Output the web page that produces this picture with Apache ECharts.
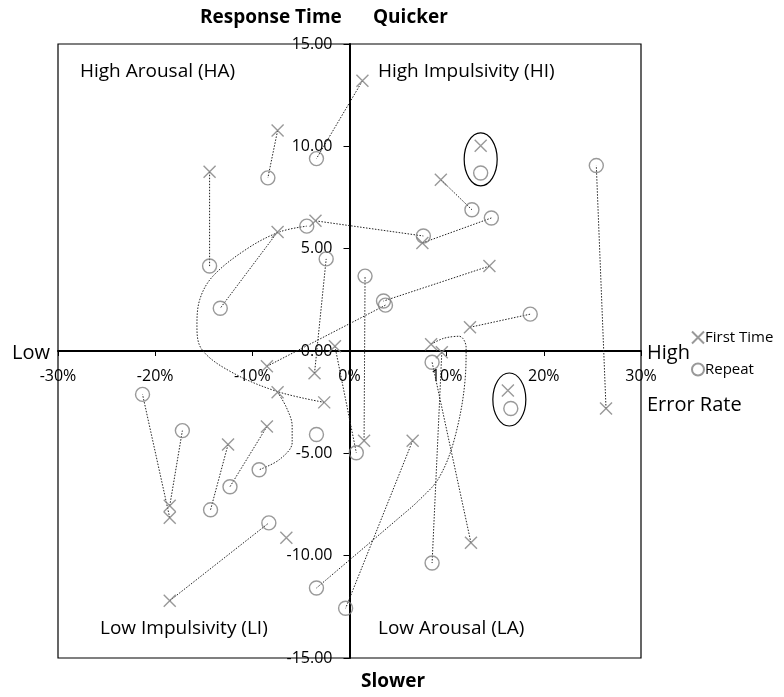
<!DOCTYPE html>
<html>
<head>
<meta charset="utf-8">
<script src="https://cdn.jsdelivr.net/npm/echarts@6/dist/echarts.min.js"></script>
<style>
html,body{margin:0;padding:0;background:#fff;}
#chart{width:784px;height:697px;}
</style>
</head>
<body>
<div id="chart"></div>
<script>
// ---- Data (Error Rate %, Response Time) ----
const xTicks = [-30, -20, -10, 0, 10, 20, 30];
const yTicks = [-15, -10, -5, 0, 5, 10, 15];

// First Time (×) – pair i matches Repeat (○) i
const firstX = [1.33, -7.4, -14.4, 13.5, 9.4, -7.4, -3.5, 7.5, 14.4, 12.4, 8.4, 9.5, -1.5, -8.5,
                -3.6, -7.4, -2.6, 16.3, 26.4, -8.5, -12.5, 1.5, 6.5, -18.5, -18.5, -6.5, 12.5, -18.5];
const firstY = [13.2, 10.77, 8.76, 10.03, 8.37, 5.82, 6.36, 5.28, 4.15, 1.16, 0.33, -0.06, 0.23, -0.75,
                -1.09, -2.02, -2.51, -1.93, -2.81, -3.69, -4.57, -4.38, -4.38, -7.56, -8.15, -9.13, -9.37, -12.2];
const repeatX = [-3.4, -8.4, -14.4, 13.5, 12.6, -13.3, 7.6, 14.6, 3.5, 18.6, -3.4, 8.5, 0.7, 3.7,
                 -2.4, -9.3, -4.4, 16.6, 25.4, -12.3, -14.3, 1.6, -0.4, -17.2, -21.3, -3.4, 8.5, -8.3];
const repeatY = [9.4, 8.46, 4.15, 8.7, 6.9, 2.09, 5.62, 6.5, 2.44, 1.8, -11.58, -10.36, -4.97, 2.24,
                 4.5, -5.8, 6.1, -2.81, 9.06, -6.63, -7.76, 3.66, -12.57, -3.89, -2.12, -4.08, -0.55, -8.4];
// connector between the pair: 'line', 'curve' or 'none'
const linkType = ['line','line','line','none','line','line','line','line','line','line','curve','line','line','line',
                  'line','curve','curve','none','line','line','line','line','line','line','line','none','line','line'];
// waypoints of curved connectors
const curve11X = [9.7, 11.3, 12.0, 11.9, 10.8, 9.2, 7.2, 5.1];
const curve11Y = [0.62, 0.72, 0.18, -1.39, -4.3, -6.2, -7.27, -8.15];
const curve16X = [-6.5, -5.9, -5.9, -7.2];
const curve16Y = [-2.75, -3.68, -4.47, -5.3];
const curve17X = [-7.5, -12.3, -15.2, -15.7, -15.4, -14.05, -10.56, -7.18];
const curve17Y = [-1.97, -0.99, 0.08, 1.21, 2.53, 3.66, 4.99, 5.82];
// pairs highlighted with an ellipse
const circledPairs = [3, 17];

const FONT = '"Open Sans", sans-serif';
const GREY = '#7f7f7f';
const crossPath = 'path://M0,0L10,10M10,0L0,10';

const curves = {10: [curve11X, curve11Y], 15: [curve16X, curve16Y], 16: [curve17X, curve17Y]};

const linkSeries = [];
for (let i = 0; i < firstX.length; i++) {
  if (linkType[i] === 'none') continue;
  const pts = [[firstX[i], firstY[i]]];
  if (linkType[i] === 'curve') {
    const c = curves[i];
    for (let k = 0; k < c[0].length; k++) pts.push([c[0][k], c[1][k]]);
  }
  pts.push([repeatX[i], repeatY[i]]);
  linkSeries.push({
    type: 'line', data: pts, showSymbol: false, symbol: 'none', silent: true,
    smooth: linkType[i] === 'curve' ? 0.35 : false,
    lineStyle: {color: '#222', width: 1, type: [1.5, 1.5]}, z: 1, animation: false
  });
}

const chart = echarts.init(document.getElementById('chart'), null, {renderer: 'canvas'});
const option = {
  animation: false,
  backgroundColor: '#fff',
  grid: {left: 58, top: 44, width: 583, height: 614, show: true, borderColor: '#000', borderWidth: 1.2},
  xAxis: {
    type: 'value', min: -30, max: 30, interval: 10, position: 'bottom', offset: -307,
    axisLine: {onZero: false, lineStyle: {color: '#000', width: 2}},
    axisTick: {show: true, length: 5, lineStyle: {color: '#000', width: 1}},
    axisLabel: {formatter: v => v + '%', fontSize: 16, color: '#000', margin: 17, fontFamily: FONT,
                showMinLabel: true, showMaxLabel: true},
    splitLine: {show: false}
  },
  yAxis: {
    type: 'value', min: -15, max: 15, interval: 5, position: 'left', offset: -291.5,
    axisLine: {onZero: false, lineStyle: {color: '#000', width: 2}},
    axisTick: {show: true, length: 6, lineStyle: {color: '#000', width: 1}},
    axisLabel: {formatter: v => v.toFixed(2), fontSize: 16, color: '#000', margin: 17, fontFamily: FONT,
                showMinLabel: true, showMaxLabel: true},
    splitLine: {show: false}
  },
  legend: {
    data: ['First Time', 'Repeat'], orient: 'vertical', left: 686, top: 325,
    itemWidth: 12, itemHeight: 12, itemGap: 17, selectedMode: false,
    textStyle: {fontSize: 15, color: '#000', fontFamily: FONT, padding: [0, 0, 0, -4]}
  },
  series: linkSeries.concat([
    {name: 'First Time', type: 'scatter', symbol: crossPath, symbolSize: 12,
     data: firstX.map((x, i) => [x, firstY[i]]),
     itemStyle: {color: 'rgba(0,0,0,0)', borderColor: GREY, borderWidth: 1.4}, z: 3},
    {name: 'Repeat', type: 'scatter', symbol: 'circle', symbolSize: 14,
     data: repeatX.map((x, i) => [x, repeatY[i]]),
     itemStyle: {color: 'rgba(0,0,0,0)', borderColor: GREY, borderWidth: 1.4}, z: 3}
  ])
};
chart.setOption(option);

function txt(text, x, y, size, bold, align) {
  return {type: 'text', x: x, y: y, silent: true, z: 10,
    style: {text: text, fill: '#000', font: (bold ? 'bold ' : '') + size + 'px ' + FONT,
            textAlign: align || 'left', textVerticalAlign: 'middle'}};
}
const graphics = [
  txt('Response Time', 200, 18, 19, true),
  txt('Quicker', 373, 18, 19, true),
  txt('Slower', 393, 682, 19, true, 'center'),
  txt('Low', 12, 353, 20, false),
  txt('High', 647, 353, 20, false),
  txt('Error Rate', 647, 405, 20, false),
  txt('High Arousal (HA)', 80, 72, 19, false),
  txt('High Impulsivity (HI)', 378, 72, 19, false),
  txt('Low Impulsivity (LI)', 100, 629, 19, false),
  txt('Low Arousal (LA)', 378, 629, 19, false)
];
circledPairs.forEach(i => {
  const c = chart.convertToPixel({gridIndex: 0}, [(firstX[i] + repeatX[i]) / 2, (firstY[i] + repeatY[i]) / 2]);
  graphics.push({type: 'ellipse', silent: true, z: 5,
    shape: {cx: c[0], cy: c[1], rx: 16.5, ry: 26.5},
    style: {fill: 'none', stroke: '#000', lineWidth: 1.2}});
});
chart.setOption({graphic: graphics});
</script>
</body>
</html>
